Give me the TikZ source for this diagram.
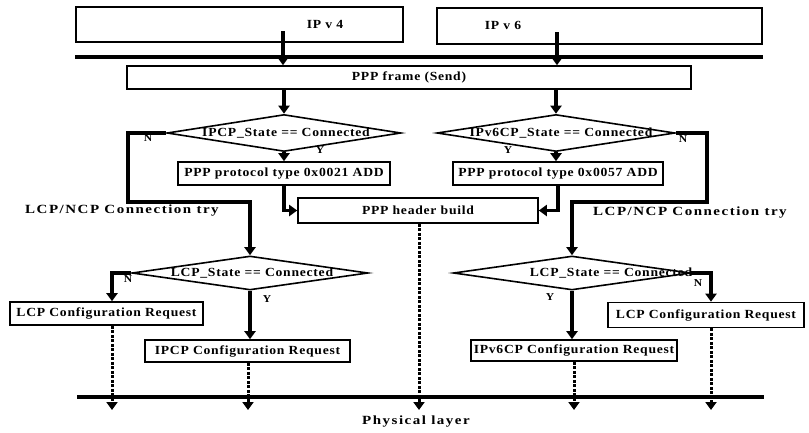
\documentclass[tikz,border=0pt]{standalone}
\usepackage{fontspec}
\newfontfamily\dfont{Liberation Serif}[FakeStretch=1.1,LetterSpace=6]
\newfontfamily\wfont{Liberation Serif}[FakeStretch=1.2,LetterSpace=12]
\usetikzlibrary{arrows.meta,shapes.geometric}
\tikzset{
  txt/.style={font=\dfont\bfseries\fontsize{12.4}{14}\selectfont, inner sep=0pt},
  wtxt/.style={font=\wfont\bfseries\fontsize{12.5}{14}\selectfont, inner sep=0pt},
  yn/.style={font=\dfont\bfseries\fontsize{10.5}{12}\selectfont, inner sep=0pt},
  box/.style={draw, rectangle, line width=1.6pt, inner sep=0pt},
  dia/.style={draw, diamond, line width=1.6pt, inner sep=0pt},
  arr/.style={line width=3.5pt, -{Triangle[width=11pt,length=8pt]}},
  sep/.style={line width=3.5pt},
  dsh/.style={line width=3pt, dash pattern=on 3pt off 1.5pt, -{Triangle[width=11pt,length=8pt]}}
}
\begin{document}
\begin{tikzpicture}[x=1pt,y=-1pt]
\useasboundingbox[fill=white] (0,0) rectangle (809,432);
% top boxes
\node[box,minimum width=327,minimum height=35] (ipv4) at (239.5,24.5) {};
\node[txt] (ipv4t) at (325,24) {IP v 4};
\node[box,minimum width=325,minimum height=36] (ipv6) at (599.5,26) {};
\node[txt] (ipv6t) at (503,25) {IP v 6};
\coordinate (tlA) at (75,57);
\coordinate (tlB) at (763,57);
\draw[sep] (tlA) -- (tlB);
\node[box,txt,minimum width=564,minimum height=23] (frame) at (409,77.5) {PPP frame (Send)};
\coordinate (s4) at (283,31);
\coordinate (s6) at (557,32);
\draw[arr] (s4) -- (s4 |- frame.north);
\draw[arr] (s6) -- (s6 |- frame.north);
% first diamonds
\node[dia,minimum width=234,minimum height=37] (d1) at (284,133) {};
\node[txt] (d1t) at (286,133) {IPCP\_State == Connected};
\node[dia,minimum width=238,minimum height=37] (d2) at (556,133) {};
\node[txt] (d2t) at (561,133) {IPv6CP\_State == Connected};
\draw[arr] (frame.south -| d1.north) -- (d1.north);
\draw[arr] (frame.south -| d2.north) -- (d2.north);
\node[yn] (n1) at (148,138) {N};
\node[yn] (y1) at (320,150) {Y};
\node[yn] (n2) at (683,139) {N};
\node[yn] (y2) at (508,150) {Y};
% protocol boxes
\node[box,txt,minimum width=212,minimum height=23] (p1) at (284,173.5) {PPP protocol type 0x0021 ADD};
\node[box,txt,minimum width=210,minimum height=23] (p2) at (558,173.5) {PPP protocol type 0x0057 ADD};
\draw[arr] (d1.south) -- (d1.south |- p1.north);
\draw[arr] (d2.south) -- (d2.south |- p2.north);
\node[box,txt,minimum width=240,minimum height=25] (hdr) at (418,210.5) {PPP header build};
\draw[arr] (p1.south) |- (hdr.west);
\draw[arr] (p2.south) |- (hdr.east);
% LCP diamonds
\node[dia,minimum width=236,minimum height=34] (l1) at (250,273) {};
\node[txt] (l1t) at (252,273) {LCP\_State == Connected};
\node[dia,minimum width=237,minimum height=34] (l2) at (572,273) {};
\node[txt] (l2t) at (611,273) {LCP\_State == Connected};
% N branches
\coordinate (n1a) at (128,133);
\coordinate (n1b) at (128,202);
\draw[arr] (d1.west) -- (n1a) -- (n1b) -| (l1.north);
\coordinate (n2a) at (707,133);
\coordinate (n2b) at (707,202);
\draw[arr] (d2.east) -- (n2a) -- (n2b) -| (l2.north);
\node[wtxt,anchor=west] (c1) at (25,211) {LCP/NCP Connection try};
\node[wtxt,anchor=west] (c2) at (593,213) {LCP/NCP Connection try};
% request boxes
\node[box,txt,minimum width=193,minimum height=23] (r1) at (106.5,313.5) {LCP Configuration Request};
\node[box,txt,minimum width=205,minimum height=22] (r2) at (247.5,351) {IPCP Configuration Request};
\node[box,txt,minimum width=206,minimum height=21] (r3) at (574,350.5) {IPv6CP Configuration Request};
\node[box,txt,minimum width=196,minimum height=25] (r4) at (706,315) {LCP Configuration Request};
\coordinate (e1) at (112,410);
\coordinate (e2) at (248,410);
\coordinate (e3) at (419,410);
\coordinate (e4) at (574,410);
\coordinate (e5) at (711,410);
\draw[arr] (l1.west) -| (e1 |- r1.north);
\draw[arr] (l2.east) -| (e5 |- r4.north);
\draw[arr] (l1.south) -- (l1.south |- r2.north);
\draw[arr] (l2.south) -- (l2.south |- r3.north);
\node[yn] (n3) at (128,279) {N};
\node[yn] (y3) at (267,299) {Y};
\node[yn] (n4) at (698,283) {N};
\node[yn] (y4) at (550,297) {Y};
% physical layer
\coordinate (blA) at (77,397);
\coordinate (blB) at (764,397);
\draw[sep] (blA) -- (blB);
\draw[dsh] (e1 |- r1.south) -- (e1);
\draw[dsh] (e2 |- r2.south) -- (e2);
\draw[dsh] (e3 |- hdr.south) -- (e3);
\draw[dsh] (e4 |- r3.south) -- (e4);
\draw[dsh] (e5 |- r4.south) -- (e5);
\node[wtxt] (phy) at (416,422) {Physical layer};
\end{tikzpicture}
\end{document}
